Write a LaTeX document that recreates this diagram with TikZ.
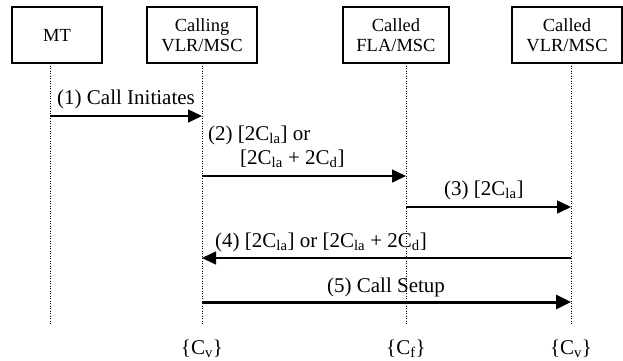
\documentclass[tikz,border=0pt]{standalone}
\usepackage{fontspec}
\setmainfont{Liberation Serif}
\usetikzlibrary{arrows.meta}
\begin{document}
\begin{tikzpicture}[x=1pt,y=-1pt,
  box/.style={draw, line width=1.6pt, inner sep=0pt, align=center, minimum height=56pt, font=\fontsize{18.5}{19.5}\selectfont},
  life/.style={line width=0.9pt, dash pattern=on 0.9pt off 1.6pt},
  msg/.style={line width=1.5pt, -{Triangle[length=14pt,width=13pt]}},
  bigmsg/.style={line width=3pt, -{Triangle[length=15pt,width=14pt]}},
  lbl/.style={inner sep=0pt, font=\fontsize{21}{22}\selectfont},
]
\useasboundingbox (0,0) rectangle (623,360);
% boxes
\node[box, minimum width=90pt]  (mt)  at (57,35)  {MT};
\node[box, minimum width=110pt] (cal) at (202,35) {Calling\\VLR/MSC};
\node[box, minimum width=106pt] (fla) at (396,35) {Called\\FLA/MSC};
\node[box, minimum width=110pt] (vlr) at (567,35) {Called\\VLR/MSC};
% lifeline coordinates
\coordinate (mtT) at (50,63);   \coordinate (mtB) at (50,325);
\coordinate (calT) at (202,63); \coordinate (calB) at (202,325);
\coordinate (flaT) at (406,63); \coordinate (flaB) at (406,325);
\coordinate (vlrT) at (571,63); \coordinate (vlrB) at (571,325);
\draw[life] (mtT) -- (mtB);
\draw[life] (calT) -- (calB);
\draw[life] (flaT) -- (flaB);
\draw[life] (vlrT) -- (vlrB);
% message end points
\coordinate (m1a) at (50,116);  \coordinate (m1b) at (202,116);
\coordinate (m2a) at (202,176); \coordinate (m2b) at (406,176);
\coordinate (m3a) at (406,207); \coordinate (m3b) at (571,207);
\coordinate (m4a) at (571,258); \coordinate (m4b) at (202,258);
\coordinate (m5a) at (202,302); \coordinate (m5b) at (571,302);
\draw[msg] (m1a) -- (m1b);
\draw[msg] (m2a) -- (m2b);
\draw[msg] (m3a) -- (m3b);
\draw[msg] (m4a) -- (m4b);
\draw[bigmsg] (m5a) -- (m5b);
% labels
\node[lbl, anchor=base west] (l1) at (57,104) {(1) Call Initiates};
\node[lbl, anchor=base west] (l2a) at (208,140) {(2) [2C\textsubscript{la}] or};
\node[lbl, anchor=base west] (l2b) at (240,164) {[2C\textsubscript{la} + 2C\textsubscript{d}]};
\node[lbl, anchor=base west] (l3) at (444,195) {(3) [2C\textsubscript{la}]};
\node[lbl, anchor=base west] (l4) at (215,247) {(4) [2C\textsubscript{la}] or [2C\textsubscript{la} + 2C\textsubscript{d}]};
\node[lbl, anchor=base] (l5) at (386,292) {(5) Call Setup};
\node[lbl, anchor=base] (c1) at (202,354) {\{C\textsubscript{v}\}};
\node[lbl, anchor=base] (c2) at (406,354) {\{C\textsubscript{f}\}};
\node[lbl, anchor=base] (c3) at (571,354) {\{C\textsubscript{v}\}};
\end{tikzpicture}
\end{document}
